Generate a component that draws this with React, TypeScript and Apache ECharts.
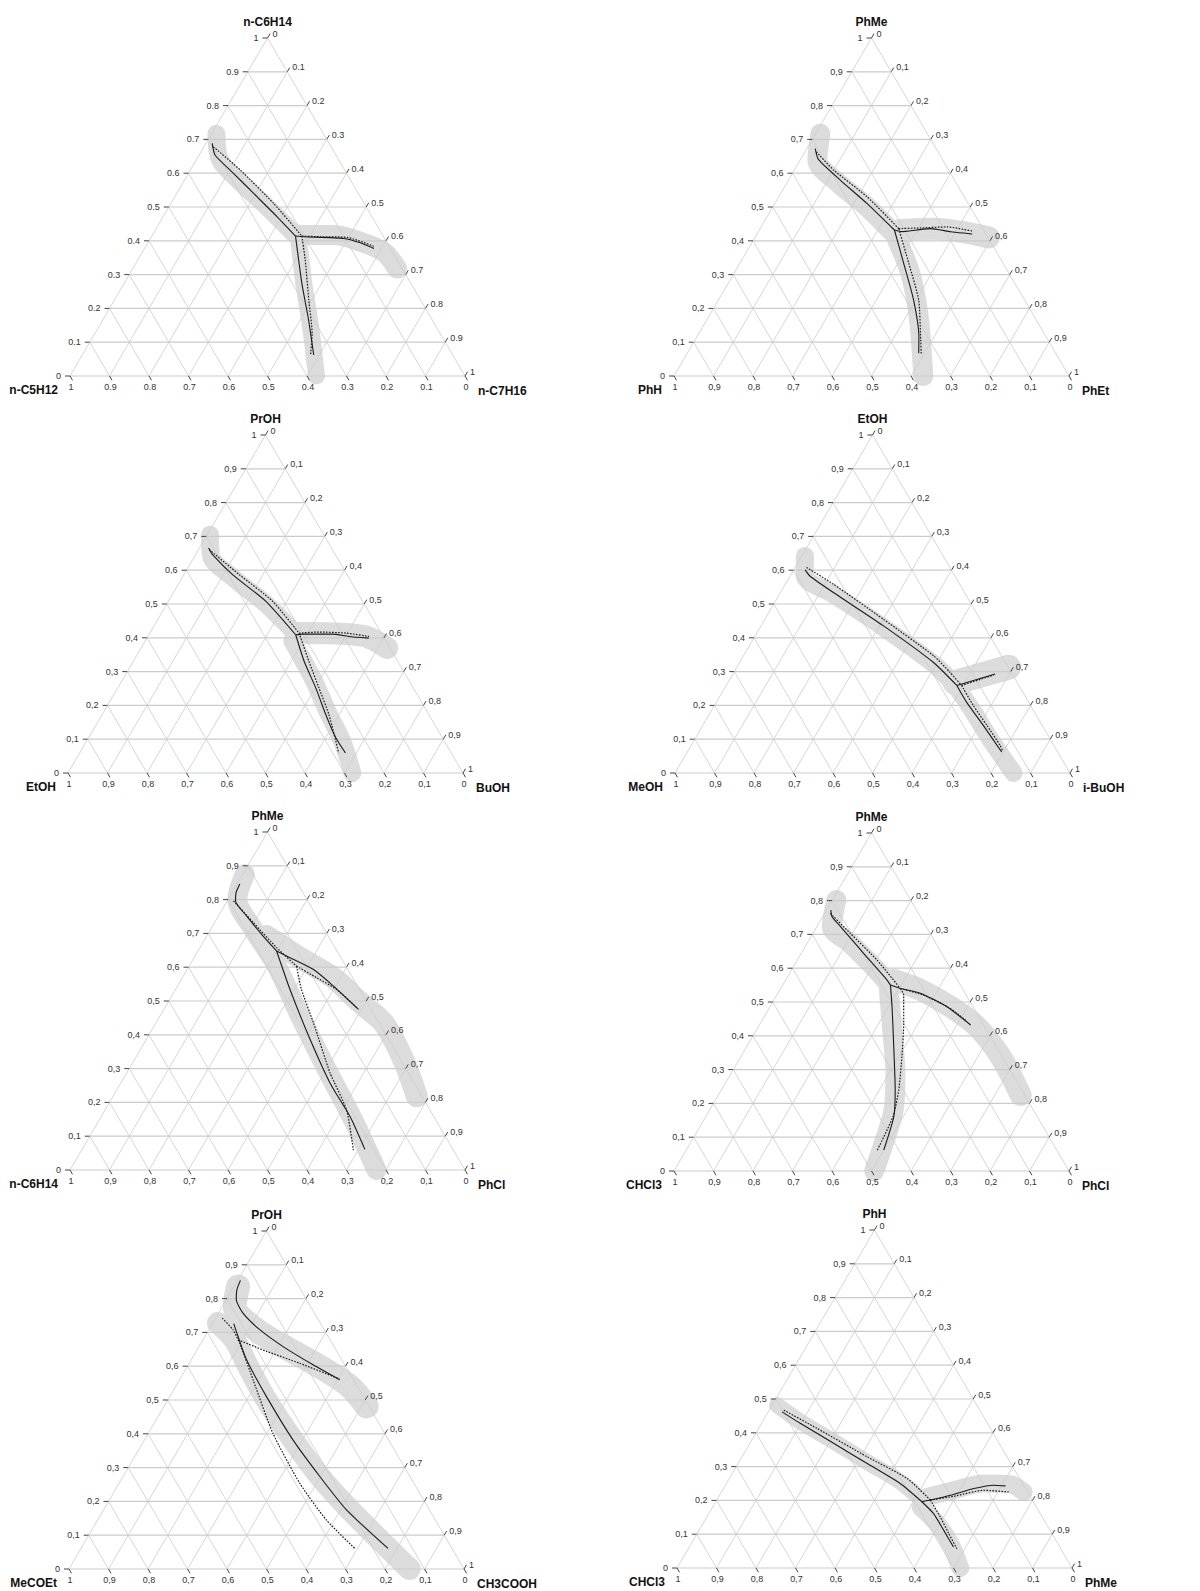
import React, { useEffect, useRef } from "react";
import * as echarts from "echarts";

// A composition point: [fraction of the top component, fraction of the right component].
// The left component is the remainder.
type Comp = [number, number];

const TICKS = [0, 0.1, 0.2, 0.3, 0.4, 0.5, 0.6, 0.7, 0.8, 0.9, 1];
const TICK_TEXT_POINT = ["0", "0.1", "0.2", "0.3", "0.4", "0.5", "0.6", "0.7", "0.8", "0.9", "1"];
const TICK_TEXT_COMMA = ["0", "0,1", "0,2", "0,3", "0,4", "0,5", "0,6", "0,7", "0,8", "0,9", "1"];

// ---- n-C6H14 / n-C7H16 / n-C5H12 ----
const P1_VERTICES = ["n-C6H14", "n-C7H16", "n-C5H12"];
const P1_SOLID_LEFT: Comp[] = [[0.688, 0.016], [0.653, 0.041], [0.599, 0.115], [0.54, 0.195], [0.471, 0.289], [0.414, 0.364]];
const P1_SOLID_RIGHT: Comp[] = [[0.414, 0.364], [0.412, 0.386], [0.407, 0.49], [0.394, 0.538], [0.377, 0.581]];
const P1_SOLID_DOWN: Comp[] = [[0.414, 0.364], [0.274, 0.45], [0.166, 0.521], [0.062, 0.586]];
const P1_DOTTED_LEFT: Comp[] = [[0.678, 0.024], [0.609, 0.127], [0.51, 0.261], [0.414, 0.38]];
const P1_DOTTED_RIGHT: Comp[] = [[0.414, 0.38], [0.412, 0.428], [0.41, 0.497], [0.384, 0.577]];
const P1_DOTTED_DOWN: Comp[] = [[0.414, 0.38], [0.343, 0.424], [0.225, 0.492], [0.126, 0.55], [0.062, 0.578]];
const P1_BAND_LEFT: Comp[] = [[0.717, 0.012], [0.638, 0.061], [0.574, 0.144], [0.5, 0.249], [0.422, 0.355]];
const P1_BAND_RIGHT: Comp[] = [[0.417, 0.375], [0.417, 0.46], [0.397, 0.537], [0.367, 0.611], [0.318, 0.669]];
const P1_BAND_DOWN: Comp[] = [[0.402, 0.378], [0.274, 0.455], [0.146, 0.536], [0, 0.624]];

// ---- PhMe / PhEt / PhH ----
const P2_VERTICES = ["PhMe", "PhEt", "PhH"];
const P2_SOLID_LEFT: Comp[] = [[0.673, 0.021], [0.64, 0.046], [0.579, 0.132], [0.51, 0.234], [0.432, 0.342]];
const P2_SOLID_RIGHT: Comp[] = [[0.432, 0.342], [0.427, 0.364], [0.432, 0.399], [0.436, 0.431], [0.427, 0.487], [0.42, 0.545]];
const P2_SOLID_DOWN: Comp[] = [[0.432, 0.342], [0.333, 0.415], [0.225, 0.494], [0.116, 0.562], [0.067, 0.586]];
const P2_DOTTED_LEFT: Comp[] = [[0.663, 0.029], [0.609, 0.1], [0.53, 0.224], [0.436, 0.351]];
const P2_DOTTED_RIGHT: Comp[] = [[0.436, 0.351], [0.438, 0.405], [0.441, 0.471], [0.429, 0.54]];
const P2_DOTTED_DOWN: Comp[] = [[0.436, 0.351], [0.333, 0.428], [0.225, 0.507], [0.126, 0.561], [0.062, 0.595]];
const P2_BAND_LEFT: Comp[] = [[0.717, 0.012], [0.638, 0.044], [0.574, 0.126], [0.5, 0.239], [0.422, 0.345]];
const P2_BAND_RIGHT: Comp[] = [[0.432, 0.357], [0.436, 0.44], [0.427, 0.512], [0.41, 0.592]];
const P2_BAND_DOWN: Comp[] = [[0.402, 0.364], [0.303, 0.447], [0.175, 0.532], [0, 0.631]];

// ---- PrOH / BuOH / EtOH ----
const P3_VERTICES = ["PrOH", "BuOH", "EtOH"];
const P3_SOLID_LEFT: Comp[] = [[0.666, 0.023], [0.646, 0.043], [0.587, 0.123], [0.508, 0.247], [0.409, 0.372]];
const P3_SOLID_RIGHT: Comp[] = [[0.409, 0.372], [0.411, 0.388], [0.411, 0.464], [0.404, 0.509], [0.399, 0.562]];
const P3_SOLID_DOWN: Comp[] = [[0.409, 0.372], [0.33, 0.433], [0.251, 0.502], [0.173, 0.566], [0.104, 0.626], [0.059, 0.673]];
const P3_DOTTED_LEFT: Comp[] = [[0.661, 0.027], [0.587, 0.14], [0.508, 0.264], [0.414, 0.378]];
const P3_DOTTED_RIGHT: Comp[] = [[0.414, 0.378], [0.417, 0.427], [0.414, 0.496], [0.404, 0.56]];
const P3_DOTTED_DOWN: Comp[] = [[0.414, 0.378], [0.33, 0.445], [0.251, 0.51], [0.173, 0.574], [0.059, 0.656]];
const P3_BAND_LEFT: Comp[] = [[0.705, 0.007], [0.641, 0.042], [0.579, 0.127], [0.5, 0.251], [0.417, 0.364]];
const P3_BAND_RIGHT: Comp[] = [[0.414, 0.378], [0.413, 0.463], [0.404, 0.551], [0.37, 0.623]];
const P3_BAND_DOWN: Comp[] = [[0.39, 0.373], [0.271, 0.488], [0.173, 0.574], [0.094, 0.647], [0, 0.72]];

// ---- EtOH / i-BuOH / MeOH ----
const P4_VERTICES = ["EtOH", "i-BuOH", "MeOH"];
const P4_SOLID_MAIN: Comp[] = [[0.601, 0.029], [0.583, 0.05], [0.534, 0.134], [0.436, 0.309], [0.327, 0.491], [0.259, 0.584]];
const P4_SOLID_RIGHT: Comp[] = [[0.259, 0.584], [0.293, 0.664]];
const P4_SOLID_DOWN: Comp[] = [[0.259, 0.584], [0.209, 0.634], [0.141, 0.71], [0.062, 0.796]];
const P4_DOTTED_MAIN: Comp[] = [[0.608, 0.029], [0.559, 0.121], [0.455, 0.3], [0.347, 0.481], [0.298, 0.547], [0.259, 0.596]];
const P4_DOTTED_RIGHT: Comp[] = [[0.259, 0.596], [0.29, 0.662]];
const P4_DOTTED_DOWN: Comp[] = [[0.259, 0.596], [0.2, 0.655], [0.141, 0.719], [0.082, 0.782], [0.067, 0.795]];
const P4_BAND_MAIN: Comp[] = [[0.642, 0.008], [0.583, 0.037], [0.529, 0.136], [0.431, 0.312], [0.323, 0.493], [0.259, 0.579], [0.195, 0.65], [0.101, 0.747], [0, 0.857]];
const P4_BAND_RIGHT: Comp[] = [[0.268, 0.575], [0.313, 0.688]];

// ---- PhMe / PhCl / n-C6H14 ----
const P5_VERTICES = ["PhMe", "PhCl", "n-C6H14"];
const P5_SOLID_TOP: Comp[] = [[0.846, 0.007], [0.821, 0.01], [0.796, 0.021], [0.752, 0.071], [0.692, 0.143], [0.648, 0.199]];
const P5_SOLID_RIGHT: Comp[] = [[0.648, 0.199], [0.628, 0.243], [0.593, 0.32], [0.544, 0.395], [0.475, 0.493]];
const P5_SOLID_DOWN: Comp[] = [[0.648, 0.199], [0.534, 0.29], [0.386, 0.415], [0.257, 0.53], [0.158, 0.63], [0.061, 0.716]];
const P5_DOTTED_TOP: Comp[] = [[0.796, 0.016], [0.732, 0.098], [0.658, 0.194], [0.603, 0.272]];
const P5_DOTTED_RIGHT: Comp[] = [[0.603, 0.272], [0.569, 0.34], [0.534, 0.408], [0.48, 0.486]];
const P5_DOTTED_DOWN: Comp[] = [[0.603, 0.272], [0.534, 0.319], [0.435, 0.399], [0.287, 0.515], [0.178, 0.611], [0.059, 0.688]];
const P5_BAND_MAIN: Comp[] = [[0.875, 0.005], [0.801, 0.023], [0.712, 0.108], [0.603, 0.222], [0.455, 0.355], [0.297, 0.502], [0.148, 0.643], [0, 0.776]];
const P5_BAND_UPPER: Comp[] = [[0.692, 0.152], [0.628, 0.268], [0.569, 0.382], [0.495, 0.487], [0.435, 0.576], [0.326, 0.681], [0.218, 0.769]];

// ---- PhMe / PhCl / CHCl3 ----
const P6_VERTICES = ["PhMe", "PhCl", "CHCl3"];
const P6_SOLID_LEFT: Comp[] = [[0.772, 0.011], [0.752, 0.024], [0.723, 0.06], [0.644, 0.158], [0.565, 0.257], [0.55, 0.273]];
const P6_SOLID_RIGHT: Comp[] = [[0.55, 0.273], [0.54, 0.303], [0.526, 0.361], [0.486, 0.448], [0.432, 0.535]];
const P6_SOLID_DOWN: Comp[] = [[0.55, 0.273], [0.486, 0.309], [0.378, 0.367], [0.24, 0.44], [0.161, 0.476], [0.062, 0.5]];
const P6_DOTTED_LEFT: Comp[] = [[0.762, 0.015], [0.703, 0.095], [0.624, 0.202], [0.54, 0.303]];
const P6_DOTTED_RIGHT: Comp[] = [[0.54, 0.303], [0.52, 0.372], [0.481, 0.459], [0.442, 0.521]];
const P6_DOTTED_DOWN: Comp[] = [[0.54, 0.303], [0.521, 0.321], [0.437, 0.363], [0.338, 0.408], [0.24, 0.449], [0.161, 0.474], [0.06, 0.484]];
const P6_BAND_LEFT: Comp[] = [[0.802, 0.01], [0.723, 0.038], [0.674, 0.109], [0.614, 0.19], [0.56, 0.259]];
const P6_BAND_RIGHT: Comp[] = [[0.565, 0.274], [0.536, 0.356], [0.486, 0.457], [0.427, 0.554], [0.338, 0.658], [0.225, 0.765]];
const P6_BAND_DOWN: Comp[] = [[0.536, 0.276], [0.417, 0.344], [0.289, 0.416], [0.18, 0.466], [0.082, 0.49], [0, 0.507]];

// ---- PrOH / CH3COOH / MeCOEt ----
const P7_VERTICES = ["PrOH", "CH3COOH", "MeCOEt"];
const P7_SOLID_UPPER: Comp[] = [[0.854, 0.007], [0.826, 0.012], [0.797, 0.025], [0.757, 0.062], [0.708, 0.129], [0.658, 0.213], [0.604, 0.316], [0.56, 0.405]];
const P7_SOLID_LOWER: Comp[] = [[0.726, 0.054], [0.688, 0.084], [0.619, 0.14], [0.51, 0.245], [0.382, 0.376], [0.273, 0.499], [0.175, 0.615], [0.061, 0.777]];
const P7_DOTTED_UPPER: Comp[] = [[0.678, 0.089], [0.644, 0.178], [0.609, 0.279], [0.562, 0.404]];
const P7_DOTTED_LOWER: Comp[] = [[0.742, 0.017], [0.708, 0.061], [0.668, 0.098], [0.56, 0.186], [0.402, 0.315], [0.254, 0.457], [0.145, 0.579], [0.061, 0.693]];
const P7_BAND_UPPER: Comp[] = [[0.836, 0.01], [0.777, 0.031], [0.708, 0.12], [0.654, 0.223], [0.599, 0.335], [0.54, 0.441], [0.481, 0.513]];
const P7_BAND_LOWER: Comp[] = [[0.728, 0.013], [0.678, 0.08], [0.599, 0.154], [0.5, 0.25], [0.382, 0.376], [0.273, 0.499], [0.165, 0.637], [0, 0.862]];

// ---- PhH / PhMe / CHCl3 ----
const P8_VERTICES = ["PhH", "PhMe", "CHCl3"];
const P8_SOLID_LEFT: Comp[] = [[0.462, 0.035], [0.428, 0.098], [0.369, 0.212], [0.309, 0.327], [0.25, 0.44], [0.196, 0.522]];
const P8_SOLID_RIGHT: Comp[] = [[0.196, 0.522], [0.201, 0.541], [0.215, 0.585], [0.235, 0.634], [0.245, 0.679], [0.243, 0.71]];
const P8_SOLID_DOWN: Comp[] = [[0.196, 0.522], [0.161, 0.569], [0.112, 0.619], [0.062, 0.669]];
const P8_DOTTED_LEFT: Comp[] = [[0.467, 0.037], [0.413, 0.148], [0.329, 0.317], [0.265, 0.45], [0.201, 0.541]];
const P8_DOTTED_RIGHT: Comp[] = [[0.201, 0.541], [0.212, 0.594], [0.23, 0.661], [0.225, 0.727]];
const P8_DOTTED_DOWN: Comp[] = [[0.201, 0.541], [0.151, 0.591], [0.102, 0.637], [0.057, 0.68]];
const P8_BAND_LEFT: Comp[] = [[0.482, 0.012], [0.433, 0.096], [0.374, 0.21], [0.314, 0.324], [0.255, 0.438], [0.201, 0.52]];
const P8_BAND_RIGHT: Comp[] = [[0.21, 0.528], [0.23, 0.585], [0.25, 0.651], [0.248, 0.72], [0.225, 0.765]];
const P8_BAND_DOWN: Comp[] = [[0.181, 0.526], [0.131, 0.593], [0.072, 0.656], [0, 0.717]];

interface Panel {
  vertices: string[]; // top, right, left
  tickText: string[];
  solid: Comp[][];
  dotted: Comp[][];
  bands: Comp[][];
}

const PANELS: Panel[] = [
  { vertices: P1_VERTICES, tickText: TICK_TEXT_POINT, solid: [P1_SOLID_LEFT, P1_SOLID_RIGHT, P1_SOLID_DOWN], dotted: [P1_DOTTED_LEFT, P1_DOTTED_RIGHT, P1_DOTTED_DOWN], bands: [P1_BAND_LEFT, P1_BAND_RIGHT, P1_BAND_DOWN] },
  { vertices: P2_VERTICES, tickText: TICK_TEXT_COMMA, solid: [P2_SOLID_LEFT, P2_SOLID_RIGHT, P2_SOLID_DOWN], dotted: [P2_DOTTED_LEFT, P2_DOTTED_RIGHT, P2_DOTTED_DOWN], bands: [P2_BAND_LEFT, P2_BAND_RIGHT, P2_BAND_DOWN] },
  { vertices: P3_VERTICES, tickText: TICK_TEXT_COMMA, solid: [P3_SOLID_LEFT, P3_SOLID_RIGHT, P3_SOLID_DOWN], dotted: [P3_DOTTED_LEFT, P3_DOTTED_RIGHT, P3_DOTTED_DOWN], bands: [P3_BAND_LEFT, P3_BAND_RIGHT, P3_BAND_DOWN] },
  { vertices: P4_VERTICES, tickText: TICK_TEXT_COMMA, solid: [P4_SOLID_MAIN, P4_SOLID_RIGHT, P4_SOLID_DOWN], dotted: [P4_DOTTED_MAIN, P4_DOTTED_RIGHT, P4_DOTTED_DOWN], bands: [P4_BAND_MAIN, P4_BAND_RIGHT] },
  { vertices: P5_VERTICES, tickText: TICK_TEXT_COMMA, solid: [P5_SOLID_TOP, P5_SOLID_RIGHT, P5_SOLID_DOWN], dotted: [P5_DOTTED_TOP, P5_DOTTED_RIGHT, P5_DOTTED_DOWN], bands: [P5_BAND_MAIN, P5_BAND_UPPER] },
  { vertices: P6_VERTICES, tickText: TICK_TEXT_COMMA, solid: [P6_SOLID_LEFT, P6_SOLID_RIGHT, P6_SOLID_DOWN], dotted: [P6_DOTTED_LEFT, P6_DOTTED_RIGHT, P6_DOTTED_DOWN], bands: [P6_BAND_LEFT, P6_BAND_RIGHT, P6_BAND_DOWN] },
  { vertices: P7_VERTICES, tickText: TICK_TEXT_COMMA, solid: [P7_SOLID_UPPER, P7_SOLID_LOWER], dotted: [P7_DOTTED_UPPER, P7_DOTTED_LOWER], bands: [P7_BAND_UPPER, P7_BAND_LOWER] },
  { vertices: P8_VERTICES, tickText: TICK_TEXT_COMMA, solid: [P8_SOLID_LEFT, P8_SOLID_RIGHT, P8_SOLID_DOWN], dotted: [P8_DOTTED_LEFT, P8_DOTTED_RIGHT, P8_DOTTED_DOWN], bands: [P8_BAND_LEFT, P8_BAND_RIGHT, P8_BAND_DOWN] },
];

// Layout: bottom-left corner of each triangle on the page, and its size.
const LAYOUT: [number, number][] = [
  [70, 376], [674, 376],
  [68, 773], [675, 773],
  [70, 1170], [674, 1171],
  [69, 1569], [677, 1568],
];
const TRI_W = 395;
const TRI_H = 338;

// Band stroke widths per panel (px).
const BAND_WIDTHS = [
  [18, 20, 17],
  [20, 22, 20],
  [18, 22, 18],
  [18, 25],
  [20, 22],
  [20, 22, 20],
  [24, 22],
  [16, 18, 18],
];

const BAND_COLOR = "#dcdcdc";
const GRID_COLOR = "#cbcbcb";
const INK = "#1a1a1a";
const TEXT = "#333333";
const FONT = "'Liberation Sans', Arial, sans-serif";

// Ternary → cartesian (unit triangle with apex at (0.5, 1)).
const toXY = ([top, right]: Comp): [number, number] => [right + top / 2, top];

function axesRenderer(tickText: string[]) {
  return (params: any, api: any) => {
    const t = api.value(0) as number;
    const label = tickText[params.dataIndex];
    const children: any[] = [];
    if (t < 1) {
      const segs: [number[], number[], number][] = [
        [api.coord([t / 2, t]), api.coord([1 - t / 2, t]), 1.2],
        [api.coord([t, 0]), api.coord([(1 + t) / 2, 1 - t]), 0.8],
        [api.coord([1 - t, 0]), api.coord([(1 - t) / 2, 1 - t]), 0.8],
      ];
      for (const [p, q, w] of segs) {
        children.push({
          type: "line",
          shape: { x1: p[0], y1: p[1], x2: q[0], y2: q[1] },
          style: { stroke: GRID_COLOR, lineWidth: w },
        });
      }
    }
    const pl = api.coord([t / 2, t]);
    const pr = api.coord([(1 + t) / 2, 1 - t]);
    const pb = api.coord([1 - t, 0]);
    const tick = (x1: number, y1: number, x2: number, y2: number) => ({
      type: "line",
      shape: { x1, y1, x2, y2 },
      style: { stroke: "#444", lineWidth: 1 },
    });
    const text = (x: number, y: number, align: string) => ({
      type: "text",
      x,
      y,
      style: {
        text: label,
        fill: TEXT,
        fontSize: 9,
        fontFamily: FONT,
        align,
        verticalAlign: "middle",
      },
    });
    children.push(tick(pl[0], pl[1], pl[0] - 5, pl[1]));
    children.push(text(pl[0] - 9, pl[1], "right"));
    children.push(tick(pr[0], pr[1], pr[0] + 2.5, pr[1] - 4.3));
    children.push(text(pr[0] + 5, pr[1] - 4.5, "left"));
    children.push(tick(pb[0], pb[1], pb[0] + 2.5, pb[1] + 4.3));
    children.push(text(pb[0] + 1, pb[1] + 11, "center"));
    return { type: "group", children };
  };
}

function vertexRenderer(names: string[]) {
  return (params: any, api: any) => {
    const i = params.dataIndex;
    const p = api.coord([api.value(0), api.value(1)]);
    const pos = [
      { x: p[0], y: p[1] - 16, align: "center" },
      { x: p[0] + 13, y: p[1] + 15, align: "left" },
      { x: p[0] - 12, y: p[1] + 14, align: "right" },
    ][i];
    return {
      type: "text",
      x: pos.x,
      y: pos.y,
      style: {
        text: names[i],
        fill: "#111",
        fontSize: 12,
        fontWeight: "bold",
        fontFamily: FONT,
        align: pos.align,
        verticalAlign: "middle",
      },
    };
  };
}

function buildOption() {
  const grid: any[] = [];
  const xAxis: any[] = [];
  const yAxis: any[] = [];
  const series: any[] = [];

  PANELS.forEach((panel, i) => {
    const [x0, y0] = LAYOUT[i];
    grid.push({ left: x0, top: y0 - TRI_H, width: TRI_W, height: TRI_H });
    xAxis.push({ type: "value", gridIndex: i, min: 0, max: 1, show: false });
    yAxis.push({ type: "value", gridIndex: i, min: 0, max: 1, show: false });
    const ax = { xAxisIndex: i, yAxisIndex: i };

    // Shaded bands, clipped to the plot rectangle so they stop at the base line
    panel.bands.forEach((band, k) => {
      series.push({
        type: "line",
        ...ax,
        data: band.map(toXY),
        smooth: 0.3,
        showSymbol: false,
        silent: true,
        clip: true,
        z: 1,
        lineStyle: { color: BAND_COLOR, width: BAND_WIDTHS[i][k], cap: "round", join: "round" },
      });
    });

    series.push({
      type: "custom",
      ...ax,
      coordinateSystem: "cartesian2d",
      data: TICKS.map((t) => [t, 0]),
      renderItem: axesRenderer(panel.tickText),
      silent: true,
      clip: false,
      z: 2,
    });

    panel.solid.forEach((curve) => {
      series.push({
        type: "line",
        ...ax,
        data: curve.map(toXY),
        smooth: 0.2,
        showSymbol: false,
        silent: true,
        clip: false,
        z: 3,
        lineStyle: { color: INK, width: 1.1 },
      });
    });
    panel.dotted.forEach((curve) => {
      series.push({
        type: "line",
        ...ax,
        data: curve.map(toXY),
        smooth: 0.2,
        showSymbol: false,
        silent: true,
        clip: false,
        z: 3,
        lineStyle: { color: INK, width: 1.2, type: [1.6, 1.4] },
      });
    });

    series.push({
      type: "custom",
      ...ax,
      coordinateSystem: "cartesian2d",
      data: [[0.5, 1], [1, 0], [0, 0]],
      renderItem: vertexRenderer(panel.vertices),
      silent: true,
      clip: false,
      z: 4,
    });
  });

  return {
    animation: false,
    backgroundColor: "#ffffff",
    grid,
    xAxis,
    yAxis,
    series,
  };
}

export default function App() {
  const ref = useRef<HTMLDivElement>(null);
  useEffect(() => {
    if (!ref.current) return;
    const chart = echarts.init(ref.current, undefined, { renderer: "svg" });
    chart.setOption(buildOption() as any);
    return () => chart.dispose();
  }, []);
  return (
    <div
      ref={ref}
      style={{ position: "absolute", left: 0, top: 0, width: 1200, height: 1591, background: "#fff" }}
    />
  );
}
